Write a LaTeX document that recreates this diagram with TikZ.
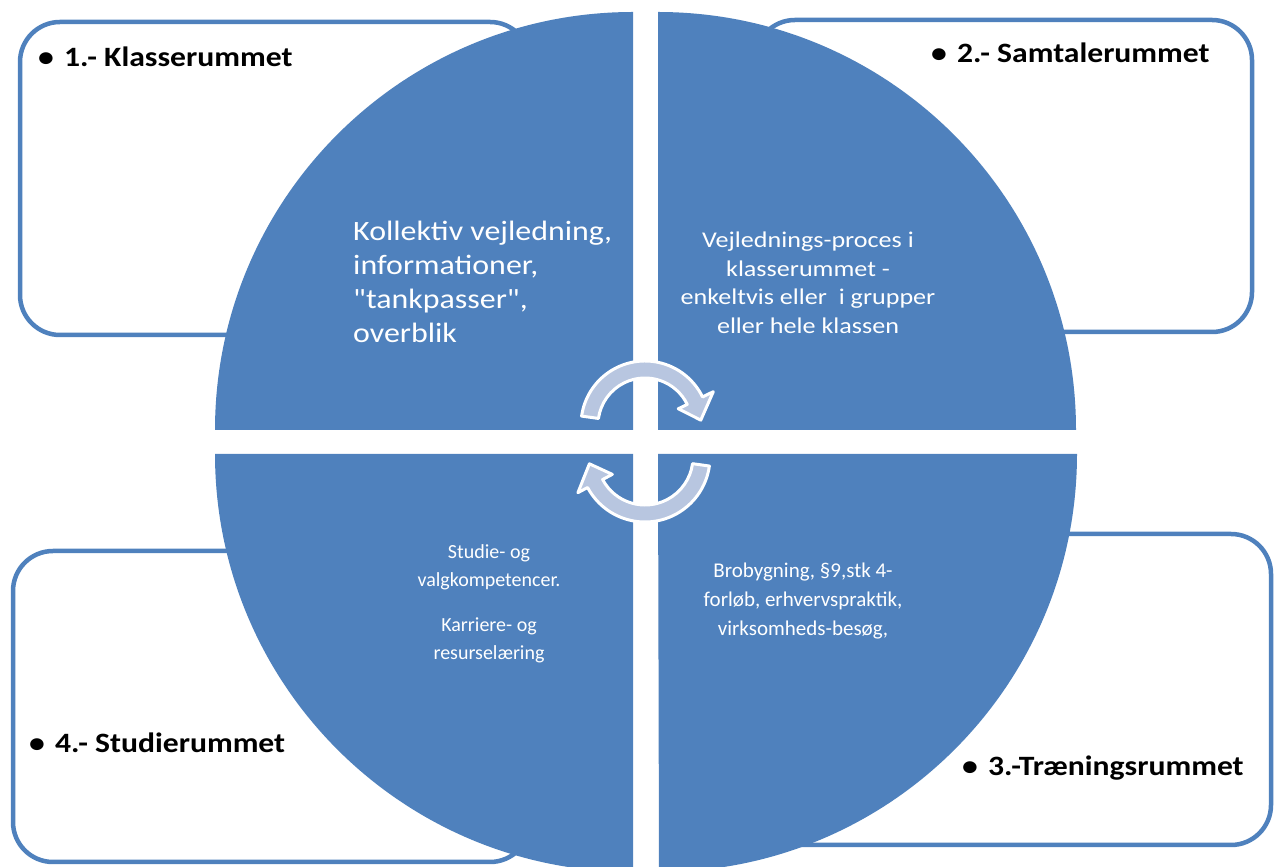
\documentclass[tikz,border=0pt]{standalone}
\usepackage{fontspec}
\setmainfont{Carlito}[Ligatures=TeXOff]
\definecolor{pieblue}{HTML}{4F81BD}
\definecolor{boxblue}{HTML}{4F81BD}
\definecolor{arrowfill}{HTML}{B8C6E0}
\tikzset{
  roombox/.style={draw=boxblue, line width=4.5pt, rounded corners=40pt, fill=white},
  quadrant/.style={fill=pieblue},
  cyclearrow/.style={fill=arrowfill, draw=white, line width=3pt, line join=round},
  roomtitle/.style={anchor=west, inner sep=0pt, xscale=1.13, transform shape, font=\fontsize{28}{32}\selectfont\bfseries, text=black},
  quadtext/.style={text=white, inner sep=0pt, align=center, transform shape},
}
\begin{document}
\begin{tikzpicture}[x=1pt,y=1pt]
\useasboundingbox (0,0) rectangle (1274,867);
\clip (0,0) rectangle (1274,867);
% boxes behind the circle
\path[roombox] (20,532) rectangle (530,845);
\path[roombox] (755,535) rectangle (1252,847);
\path[roombox] (745,22) rectangle (1271,333);
\path[roombox] (13,5) rectangle (530,316);
% quadrants
\path[quadrant] (633,437) -- ++(-418,0) arc[start angle=180, end angle=90, radius=418] -- cycle;
\path[quadrant] (658,437) -- ++(0,418) arc[start angle=90, end angle=0, radius=418] -- cycle;
\path[quadrant] (633,413) -- ++(-418,0) arc[start angle=180, end angle=270, radius=418] -- cycle;
\path[quadrant] (658,413) -- ++(419,0) arc[start angle=0, end angle=-90, radius=418] -- cycle;
% cycle arrows
\path[cyclearrow, shift={(645,442)}] (172:64) arc[start angle=172, end angle=26, radius=64]
  -- (26:76) -- (5:56) -- (26:37) -- (26:47) arc[start angle=26, end angle=172, radius=47] -- cycle;
\path[cyclearrow, shift={(645,410)}] (-8:65) arc[start angle=-8, end angle=-152, radius=65]
  -- (-152:76) -- (-173:56) -- (-152:37) -- (-152:48) arc[start angle=-152, end angle=-8, radius=48] -- cycle;
% room titles
\node[roomtitle] (t1) at (38,810) {\textbullet\hspace{9pt}1.- Klasserummet};
\node[roomtitle] (t2) at (931,814) {\textbullet\hspace{9pt}2.- Samtalerummet};
\node[roomtitle] (t3) at (962,99) {\textbullet\hspace{9pt}3.-Træningsrummet};
\node[roomtitle] (t4) at (29,124) {\textbullet\hspace{9pt}4.- Studierummet};
% quadrant texts
\node[quadtext, anchor=west, align=left, xscale=1.14, font=\fontsize{28}{34}\selectfont] (q1) at (353,585)
  {Kollektiv vejledning,\\informationer,\\"tankpasser",\\overblik};
\node[quadtext, xscale=1.16, font=\fontsize{22.5}{28.5}\selectfont] (q2) at (808,584)
  {Vejlednings-proces i\\klasserummet -\\enkeltvis eller\ \ i grupper\\eller hele klassen};
\node[quadtext, font=\fontsize{21}{29}\selectfont] (q3) at (803,266)
  {Brobygning, §9,stk 4-\\forløb, erhvervspraktik,\\virksomheds-besøg,};
\node[quadtext, font=\fontsize{20}{28}\selectfont] (q4) at (489,263)
  {Studie- og\\valgkompetencer.\\[17pt]Karriere- og\\resurselæring};
\end{tikzpicture}
\end{document}
